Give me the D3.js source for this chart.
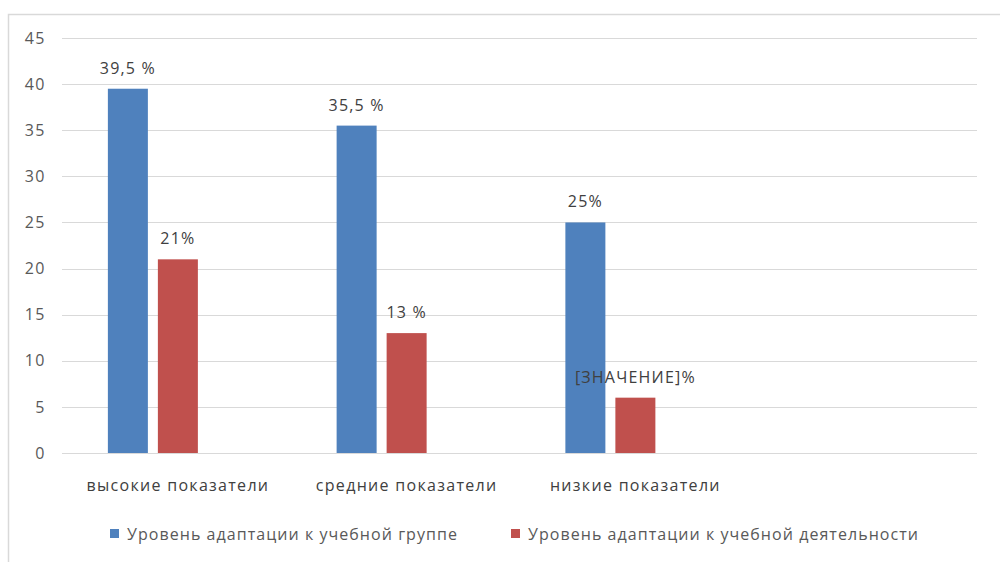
<!DOCTYPE html>
<html>
<head>
<meta charset="utf-8">
<script src="https://cdn.jsdelivr.net/npm/d3@7"></script>
<style>
  body { margin: 0; background: #fff; }
  text { font-family: "Open Sans", "Noto Sans", sans-serif; }
</style>
</head>
<body>
<div id="canvas"></div>
<script>
// data
const categories = ['высокие показатели', 'средние показатели', 'низкие показатели', ''];
const seriesNames = ['Уровень адаптации к учебной группе', 'Уровень адаптации к учебной деятельности'];
const groupValues = [39.5, 35.5, 25, null];
const activityValues = [21, 13, 6, null];
const groupLabels = ['39,5 %', '35,5 %', '25%', ''];
const activityLabels = ['21%', '13 %', '[ЗНАЧЕНИЕ]%', ''];
const yTicks = [0, 5, 10, 15, 20, 25, 30, 35, 40, 45];

const width = 1000;
const height = 562;
const colors = ['#4F81BD', '#C0504D'];
const fontSize = 16;
const spacing = 1.2;

const svg = d3.select('#canvas')
    .append('svg').attr('width', width).attr('height', height);

// chart frame
svg.append('path')
    .attr('d', 'M8.5,562 V14.5 H1000')
    .attr('fill', 'none')
    .attr('stroke', '#d9d9d9')
    .attr('stroke-width', 1.5);

const x = d3.scaleBand()
    .domain(categories.map((d, i) => i))
    .range([63.5, 978.5]);

// three slots per group, the third is empty
const xSub = d3.scaleBand()
    .domain([0, 1, 2])
    .range([0, 140])
    .paddingInner(0.2);

const y = d3.scaleLinear()
    .domain([0, 45])
    .range([453, 38]);

// gridlines
svg.append('g')
    .selectAll('line')
    .data(yTicks)
    .join('line')
    .attr('x1', 62)
    .attr('x2', 977)
    .attr('y1', d => Math.round(y(d)) + 0.5)
    .attr('y2', d => Math.round(y(d)) + 0.5)
    .attr('stroke', '#d9d9d9')
    .attr('stroke-width', 1);

// y axis labels
const yAxis = d3.axisLeft(y).tickValues(yTicks).tickSize(0).tickPadding(0);
svg.append('g')
    .attr('transform', 'translate(46,0)')
    .call(yAxis)
    .call(g => g.select('.domain').remove())
    .selectAll('text')
    .attr('font-family', '"Open Sans", sans-serif')
    .attr('font-size', fontSize)
    .attr('letter-spacing', 1.5)
    .attr('fill', '#595959');

// x axis labels
const xAxis = d3.axisBottom(x).tickFormat(i => categories[i]).tickSize(0).tickPadding(0);
svg.append('g')
    .attr('transform', 'translate(0,480)')
    .call(xAxis)
    .call(g => g.select('.domain').remove())
    .selectAll('text')
    .attr('font-family', '"Open Sans", sans-serif')
    .attr('font-size', fontSize)
    .attr('letter-spacing', 1.3)
    .attr('fill', '#404040');

const offset = (x.bandwidth() - 140) / 2;
const series = [
    { values: groupValues, labels: groupLabels },
    { values: activityValues, labels: activityLabels }
];

series.forEach((s, si) => {
    const g = svg.append('g');
    const idx = s.values.map((v, i) => i).filter(i => s.values[i] != null);
    g.selectAll('rect')
        .data(idx)
        .join('rect')
        .attr('x', i => x(i) + offset + xSub(si))
        .attr('width', xSub.bandwidth())
        .attr('y', i => y(s.values[i]))
        .attr('height', i => y(0) - y(s.values[i]))
        .attr('fill', colors[si]);
    g.selectAll('text')
        .data(idx)
        .join('text')
        .attr('x', i => x(i) + offset + xSub(si) + xSub.bandwidth() / 2)
        .attr('y', i => y(s.values[i]) - 15)
        .attr('text-anchor', 'middle')
        .attr('font-size', fontSize)
        .attr('letter-spacing', spacing)
        .attr('fill', '#404040')
        .text(i => s.labels[i]);
});

// legend
const legendX = [110, 511];
const legend = svg.append('g');
seriesNames.forEach((name, i) => {
    legend.append('rect')
        .attr('x', legendX[i])
        .attr('y', 529)
        .attr('width', 9)
        .attr('height', 9)
        .attr('fill', colors[i]);
    legend.append('text')
        .attr('x', legendX[i] + 17)
        .attr('y', 539.5)
        .attr('font-size', fontSize)
        .attr('letter-spacing', 1.05)
        .attr('fill', '#595959')
        .text(name);
});
</script>
</body>
</html>
